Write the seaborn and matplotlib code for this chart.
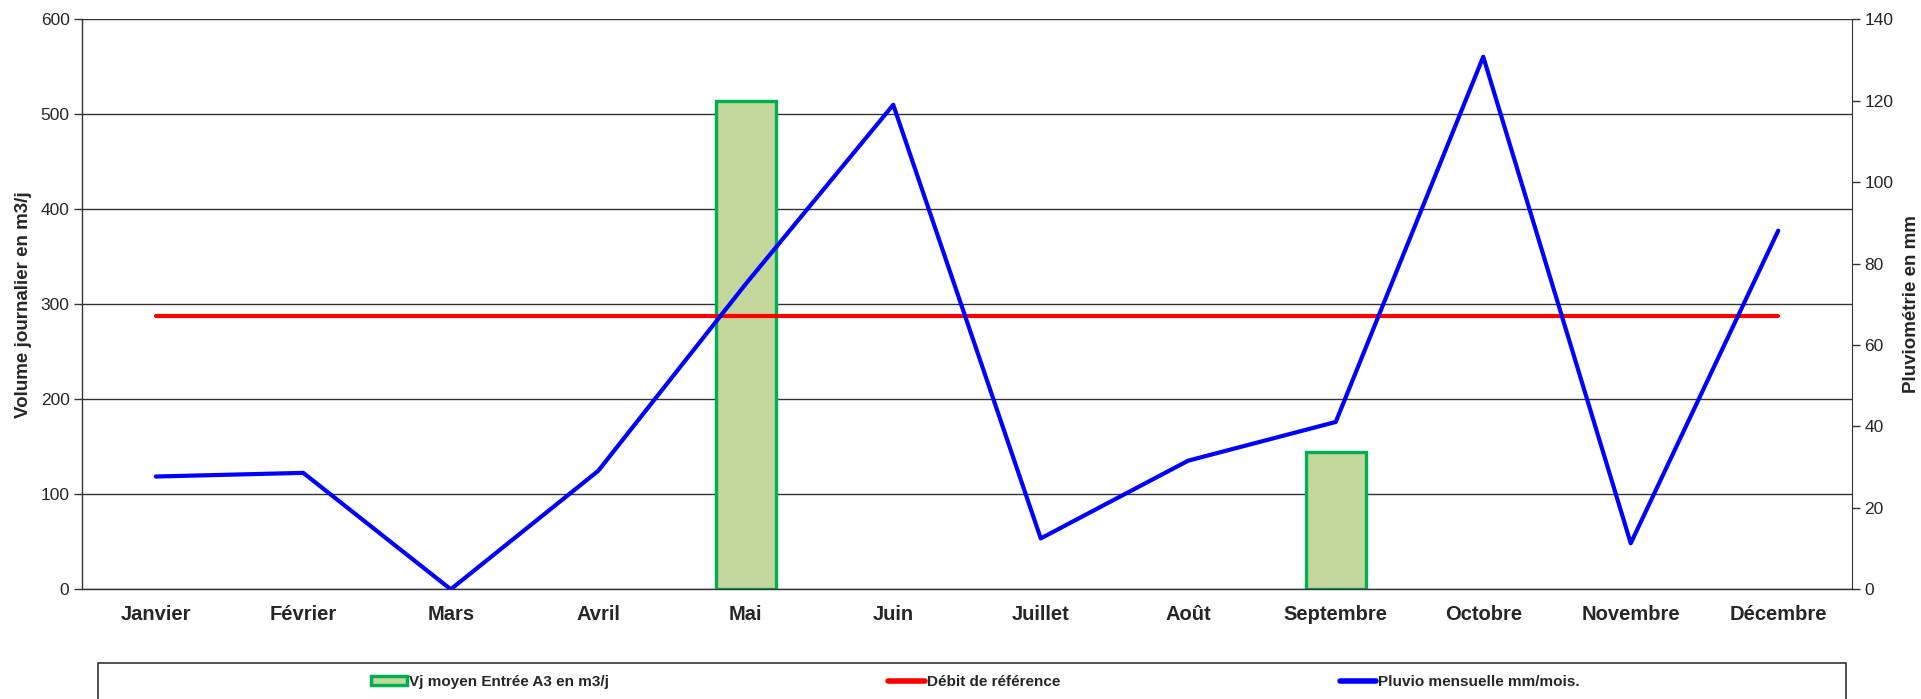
import numpy as np
import pandas as pd
import matplotlib
matplotlib.use("Agg")
import matplotlib.pyplot as plt
import seaborn as sns
from matplotlib.patches import Rectangle, Patch
from matplotlib.lines import Line2D

# données
mois = ["Janvier", "Février", "Mars", "Avril", "Mai", "Juin",
        "Juillet", "Août", "Septembre", "Octobre", "Novembre", "Décembre"]
vj_moyen = [np.nan, np.nan, np.nan, np.nan, 514, np.nan,
            np.nan, np.nan, 145, np.nan, np.nan, np.nan]
debit_ref = [288] * 12
pluvio = [27.7, 28.6, 0, 29.1, 75, 119, 12.5, 31.6, 41.1, 130.8, 11.3, 88.1]

sns.set_style("white")
plt.rcParams["font.family"] = ["Liberation Sans", "DejaVu Sans"]

df = pd.DataFrame({"Mois": mois, "Vj": vj_moyen, "Ref": debit_ref, "Pluvio": pluvio})
pos = np.arange(len(mois))

fig = plt.figure(figsize=(19.21, 6.99), dpi=100)
ax = fig.add_axes([82 / 1921, 1 - 589.3 / 699, 1770 / 1921, 570 / 699])

sns.barplot(data=df, x="Mois", y="Vj", ax=ax, color="#c3d69b", edgecolor="#00b050",
            linewidth=2.4, width=0.41, saturation=1, errorbar=None, zorder=2)
sns.lineplot(x=pos, y=df["Ref"], ax=ax, color="#ff0000", linewidth=3, zorder=3)

ax.set_xlim(-0.5, 11.5)
ax.set_ylim(0, 600)
ax.set_yticks(range(0, 601, 100))
ax.yaxis.grid(True, color="#333333", linewidth=1)
ax.set_axisbelow(True)
ax.set_xlabel("")
ax.set_ylabel("Volume journalier en m3/j", fontsize=13.5, fontweight="bold", labelpad=6)
ax.set_xticks(pos)
ax.set_xticklabels(mois, fontsize=14.5, fontweight="bold")
ax.tick_params(axis="x", length=0, pad=11)
ax.tick_params(axis="y", length=6, width=1, color="#333333", labelsize=12.5, pad=3, left=True)
for s in ["left", "bottom"]:
    ax.spines[s].set_color("#333333")
    ax.spines[s].set_linewidth(1)
ax.spines["top"].set_visible(False)
ax.spines["right"].set_visible(False)

ax2 = ax.twinx()
sns.lineplot(x=pos, y=df["Pluvio"], ax=ax2, color="#0000ff", linewidth=3)
ax2.set_ylim(0, 140)
ax2.set_yticks(range(0, 141, 20))
ax2.set_ylabel("Pluviométrie en mm", fontsize=13.5, fontweight="bold", labelpad=7)
ax2.tick_params(axis="y", length=6, width=1, color="#333333", labelsize=12.5, pad=3, right=True)
ax2.spines["right"].set_color("#333333")
for s in ["left", "top", "bottom"]:
    ax2.spines[s].set_visible(False)

# cadre de la légende
fig.patches.append(Rectangle((98 / 1921, -0.05), 1748 / 1921, 0.05 + 36 / 699,
                             transform=fig.transFigure, fill=False,
                             edgecolor="#333333", linewidth=1.2))
handles = [Patch(facecolor="#c3d69b", edgecolor="#00b050", linewidth=2.5),
           Line2D([], [], color="#ff0000", linewidth=4),
           Line2D([], [], color="#0000ff", linewidth=4)]
labels = ["Vj moyen Entrée A3 en m3/j", "Débit de référence", "Pluvio mensuelle mm/mois."]
fig.legend(handles, labels, loc="center", bbox_to_anchor=(975 / 1921, 17 / 699),
           ncol=3, frameon=False, prop={"size": 11, "weight": "bold"},
           handlelength=2.4, handleheight=0.55, handletextpad=0.1, columnspacing=18.3)

fig.savefig("out.png", dpi=100)
